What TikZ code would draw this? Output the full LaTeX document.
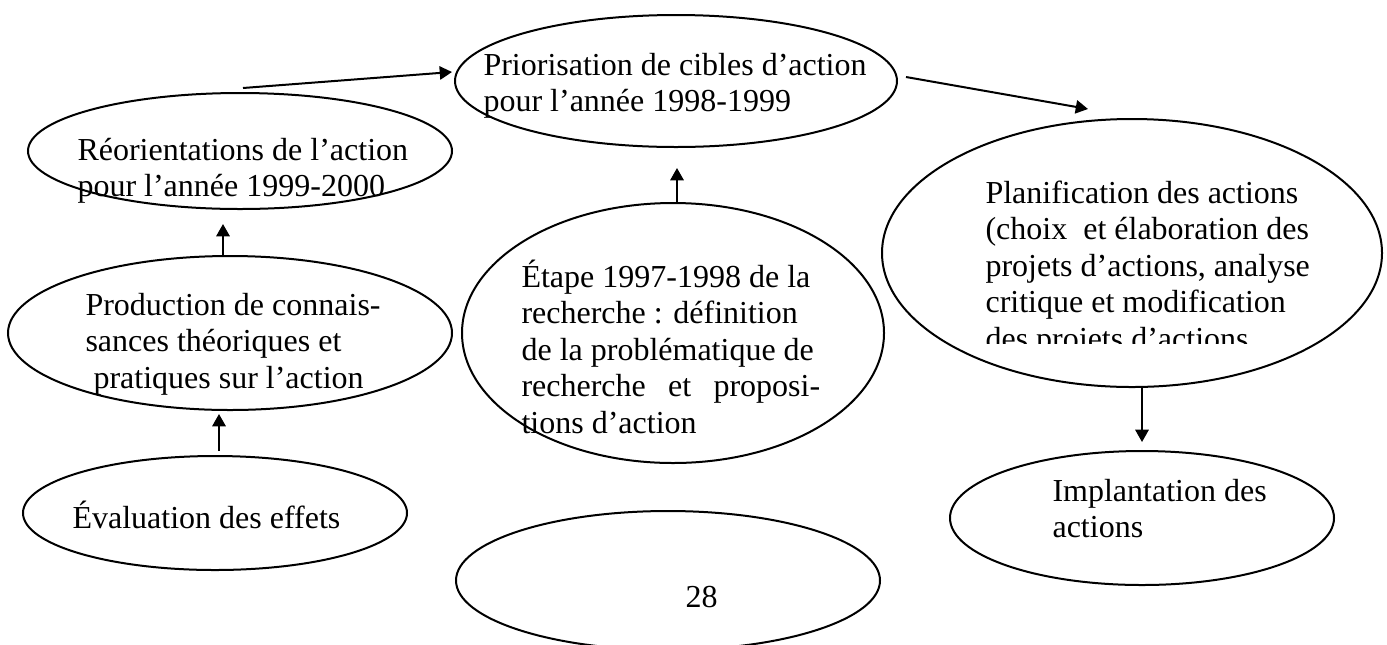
\documentclass[tikz,border=0pt]{standalone}
\usepackage{fontspec}
\setmainfont{Liberation Serif}
\usetikzlibrary{shapes.geometric,arrows.meta,calc}
\newcommand\pxu{0.375pt}
\newcommand\mlines[1]{\vtop{\baselineskip=13.7pt\lineskip=0pt\lineskiplimit=-20pt #1}}
\begin{document}
\begin{tikzpicture}[x=0.375pt,y=-0.375pt,
  ell/.style={ellipse,draw,line width=0.75pt,inner sep=0pt},
  txt/.style={anchor=base west,inner sep=0pt,font=\fontsize{12pt}{13.7pt}\selectfont},
  arr/.style={line width=0.75pt,-{Triangle[length=4.6pt,width=5pt]}}]
\useasboundingbox (0,0) rectangle (1387,644);
% ellipses
\node[ell,minimum width=442*\pxu,minimum height=132*\pxu] (prio) at (676,81) {};
\node[ell,minimum width=424*\pxu,minimum height=116*\pxu] (reor) at (240,151) {};
\node[ell,minimum width=444*\pxu,minimum height=154*\pxu] (prod) at (230,333) {};
\node[ell,minimum width=384*\pxu,minimum height=114*\pxu] (eval) at (215,513) {};
\node[ell,minimum width=422*\pxu,minimum height=260*\pxu] (etape) at (673,333) {};
\node[ell,minimum width=500*\pxu,minimum height=268*\pxu] (plan) at (1132,253) {};
\node[ell,minimum width=384*\pxu,minimum height=134*\pxu] (impl) at (1142,518) {};
\node[ell,minimum width=424*\pxu,minimum height=139*\pxu] (page) at (668,580.5) {};
% texts
\node[txt] (prioT) at (483,75) {\mlines{\hbox{Priorisation de cibles d’action}\hbox{pour l’année 1998-1999}}};
\node[txt] (reorT) at (77,160) {\mlines{\hbox{Réorientations de l’action}\hbox{pour l’année 1999-2000}}};
\node[txt] (prodT) at (85,315) {\mlines{\hbox{Production de connais-}\hbox{sances théoriques et}\hbox{\hskip3pt pratiques sur l’action}}};
\node[txt] (evalT) at (72,528) {Évaluation des effets};
\node[txt] (etapeT) at (521,287) {\mlines{\hbox{Étape 1997-1998 de la}\hbox{recherche : définition}\hbox{de la problématique de}\hbox to 112pt{recherche\hfill et\hfill proposi-}\hbox{tions d’action}}};
\begin{scope}
\clip (960,150) rectangle (1330,343);
\node[txt] (planT) at (985,203) {\mlines{\hbox{Planification des actions}\hbox{(choix\ \ et élaboration des}\hbox{projets d’actions, analyse}\hbox{critique et modification}\hbox{des projets d’actions}}};
\end{scope}
\node[txt] (implT) at (1052,501) {\mlines{\hbox{Implantation des}\hbox{actions}}};
\node[txt] (pageT) at (685,607) {28};
% arrows
\draw[arr] ($(eval.north)+(4,-4)$) -- ($(prod.south)+(-11,3)$);
\draw[arr] ($(prod.north)+(-7,2)$) -- ($(reor.south)+(-17,14)$);
\draw[arr] ($(reor.north)+(3,-4)$) -- ($(prio.west)+(-2,-9)$);
\draw[arr] ($(prio.east)+(8,-4)$) -- ($(plan.north)+(-44,-9)$);
\draw[arr] ($(etape.north)+(4,0)$) -- ($(prio.south)+(1,20)$);
\draw[arr] ($(plan.south)+(10,0)$) -- ($(impl.north)+(0,-8)$);
\end{tikzpicture}
\end{document}
